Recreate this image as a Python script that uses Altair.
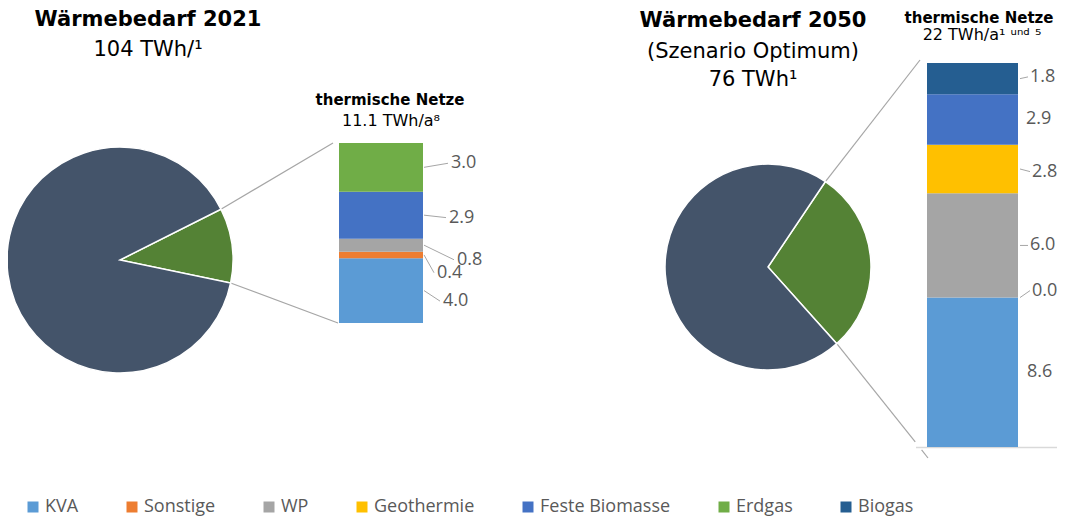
import math
import altair as alt
import pandas as pd

# ---------------- data ----------------
cats = ["KVA", "Sonstige", "WP", "Geothermie", "Feste Biomasse", "Erdgas", "Biogas"]
cat_colors = ["#5B9BD5", "#ED7D31", "#A5A5A5", "#FFC000", "#4472C4", "#70AD47", "#255E91"]

pie_totals = [104, 76]          # Wärmebedarf 2021 / 2050
pie_netze = [11.1, 22]          # thermische Netze share

bar1_cats = ["KVA", "Sonstige", "WP", "Feste Biomasse", "Erdgas"]
bar1_vals = [4.0, 0.4, 0.8, 2.9, 3.0]

bar2_cats = ["KVA", "Sonstige", "WP", "Geothermie", "Feste Biomasse", "Biogas"]
bar2_vals = [8.6, 0.0, 6.0, 2.8, 2.9, 1.8]

# ---------------- styling (label nudges in value units, x shifts in px, leader flags) ----------------
bar1_nudge = [-0.65, -1.1, -0.9, -0.15, 0.25]
bar1_dx = [-4, -10, 10, 2, 4]
bar1_leader = [True, True, True, True, True]
bar2_nudge = [0.0, 0.4, 0.0, -0.15, 0.0, 0.1]
bar2_dx = [-2, 3, 1, 3, -3, 1]
bar2_leader = [False, True, True, True, False, True]

PIE_DARK = "#44546A"
PIE_GREEN = "#548235"
LINE = "#A6A6A6"
LABEL = "#595959"
TITLE_FONT = "DejaVu Sans"
LABEL_FONT = "Open Sans"


def stack_df(cs, vs, nudge, dx, leader):
    rows = []
    acc = 0.0
    for c, v, n, d, l in zip(cs, vs, nudge, dx, leader):
        rows.append({"cat": c, "v": v, "y0": acc, "y1": acc + v,
                     "mid": acc + v / 2, "ly": acc + v / 2 + n,
                     "lab": f"{v:.1f}", "dx": d, "leader": l})
        acc += v
    return pd.DataFrame(rows)


df1 = stack_df(bar1_cats, bar1_vals, bar1_nudge, bar1_dx, bar1_leader)
df2 = stack_df(bar2_cats, bar2_vals, bar2_nudge, bar2_dx, bar2_leader)
tot1 = sum(bar1_vals)
tot2 = sum(bar2_vals)

# geometry (plot-area coordinates)
P1 = (112, 252, 113)
P2 = (760, 259, 103)
B1 = (331, 415, 315, 135)   # x0, x1, ybottom, ytop
B2 = (919, 1010, 439, 55)
s1 = math.radians(63.3)
s2 = math.radians(33.9)

ys1 = alt.Scale(domain=[0, tot1], range=[B1[2], B1[3]])
ys2 = alt.Scale(domain=[0, tot2], range=[B2[2], B2[3]])

legend = alt.Legend(orient="none", legendX=16, legendY=490, direction="horizontal",
                    title=None, symbolType="square", symbolSize=121, symbolStrokeWidth=0,
                    labelFont=LABEL_FONT, labelFontSize=18, labelColor=LABEL,
                    columnPadding=44, labelOffset=3, padding=0)
color = alt.Color("cat:N", scale=alt.Scale(domain=cats, range=cat_colors), legend=legend)


def pie(total, netze, center, start):
    cx, cy, r = center
    d = pd.DataFrame({"part": ["Netze", "Rest"], "v": [netze, total - netze],
                      "col": [PIE_GREEN, PIE_DARK], "idx": [0, 1]})
    return alt.Chart(d).mark_arc(radius=r, stroke="white", strokeWidth=1.5).encode(
        theta=alt.Theta("v:Q", stack=True,
                        scale=alt.Scale(domain=[0, total], range=[start, start + 2 * math.pi])),
        fill=alt.Fill("col:N", scale=None, legend=None),
        detail="part:N",
        order=alt.Order("idx:Q"),
        x=alt.value(cx), y=alt.value(cy))


def bar(df, B, ys):
    return alt.Chart(df).mark_rect().encode(
        x=alt.value(B[0]), x2=alt.value(B[1]),
        y=alt.Y("y0:Q", scale=ys, axis=None), y2="y1:Q",
        color=color)


def labels(df, ys, lx, x0, gap):
    out = []
    for i in range(len(df)):
        row = df.iloc[[i]]
        d = int(row["dx"].iloc[0])
        out.append(alt.Chart(row).mark_text(align="left", baseline="middle", font=LABEL_FONT,
                                            fontSize=18, color=LABEL).encode(
            x=alt.value(lx + d), y=alt.Y("ly:Q", scale=ys, axis=None), text="lab:N"))
        if bool(row["leader"].iloc[0]):
            out.append(alt.Chart(row).mark_rule(color=LINE, strokeWidth=1).encode(
                x=alt.value(x0), x2=alt.value(lx + d - gap),
                y=alt.Y("mid:Q", scale=ys, axis=None), y2="ly:Q"))
    return out


def seg(xa, ya, xb, yb, color=LINE, w=1.2):
    return alt.Chart(pd.DataFrame({"k": [0]})).mark_rule(color=color, strokeWidth=w).encode(
        x=alt.value(xa), y=alt.value(ya), x2=alt.value(xb), y2=alt.value(yb))


def txt(s, x, y, size, bold=False, align="center", font=TITLE_FONT, color="#000000"):
    return alt.Chart(pd.DataFrame({"t": [s]})).mark_text(
        align=align, baseline="middle", font=font, fontSize=size,
        fontWeight="bold" if bold else "normal", color=color).encode(
        text="t:N", x=alt.value(x), y=alt.value(y))


def rim(center, ang):
    cx, cy, r = center
    return cx + r * math.sin(ang), cy - r * math.cos(ang)


e1 = s1 + 2 * math.pi * pie_netze[0] / pie_totals[0]
e2 = s2 + 2 * math.pi * pie_netze[1] / pie_totals[1]
p1u, p1l = rim(P1, s1), rim(P1, e1)
p2u, p2l = rim(P2, s2), rim(P2, e2)

end2 = (920, 450)
def along(p, q, t):
    return p[0] + (q[0] - p[0]) * t, p[1] + (q[1] - p[1]) * t
a1 = along(p2l, end2, 0.86)
a2 = along(p2l, end2, 0.93)

layers = [
    seg(p1u[0], p1u[1], B1[0] - 6, B1[3]),
    seg(p1l[0], p1l[1], B1[0] - 1, B1[2]),
    seg(p2u[0], p2u[1], 912, 52),
    seg(p2l[0], p2l[1], a1[0], a1[1]),
    seg(a2[0], a2[1], end2[0], end2[1]),
    seg(908, 439.5, 1049, 439.5, color="#D9D9D9", w=1.5),
    pie(pie_totals[0], pie_netze[0], P1, s1),
    pie(pie_totals[1], pie_netze[1], P2, s2),
    bar(df1, B1, ys1),
    bar(df2, B2, ys2),
]
layers += labels(df1, ys1, 439, 416, 3)
layers += labels(df2, ys2, 1021, 1012, 2)
layers += [
    txt("Wärmebedarf 2021", 140, 12, 21, bold=True),
    txt("104 TWh/¹", 140, 42, 21),
    txt("thermische Netze", 382, 92, 15, bold=True),
    txt("11.1 TWh/a⁸", 383, 113, 16),
    txt("Wärmebedarf 2050", 745, 13, 21, bold=True),
    txt("(Szenario Optimum)", 745, 44, 21),
    txt("76 TWh¹", 745, 72, 21),
    txt("thermische Netze", 971, 10, 15, bold=True),
    txt("22 TWh/a¹ ᵘⁿᵈ ⁵", 974, 27, 16),
]

chart = alt.layer(*layers).resolve_scale(y="independent", theta="independent").properties(
    width=1049, height=508, padding=0, autosize=alt.AutoSizeParams(type="none")
).configure_view(stroke=None)

chart.save("out.html", embed_options={"renderer": "svg", "actions": False})
